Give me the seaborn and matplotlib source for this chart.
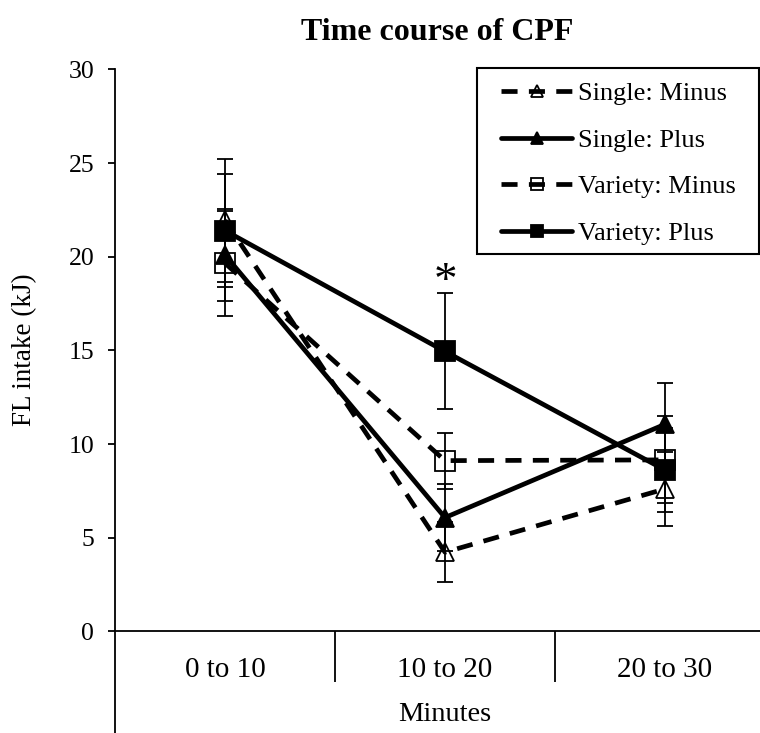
import matplotlib
matplotlib.use("Agg")
import matplotlib.pyplot as plt
from matplotlib.patches import Rectangle
import numpy as np
import pandas as pd
import seaborn as sns

# Intake per 10-minute block (mean and SEM, kJ)
periods = ["0 to 10", "10 to 20", "20 to 30"]
single_minus = [21.95, 4.23, 7.61]
single_minus_se = [3.27, 1.60, 1.98]
single_plus = [20.1, 6.08, 11.06]
single_plus_se = [2.45, 1.78, 2.22]
variety_minus = [19.66, 9.12, 9.16]
variety_minus_se = [2.80, 1.50, 2.32]
variety_plus = [21.4, 14.95, 8.62]
variety_plus_se = [3.0, 3.10, 2.22]
series_names = ["Single: Minus", "Single: Plus", "Variety: Minus", "Variety: Plus"]
significant_period = "10 to 20"
star_height = 19.0

sns.set_theme(style="white")
plt.rcParams["font.family"] = ["Liberation Serif", "DejaVu Serif"]
for key in ["text.color", "axes.labelcolor", "xtick.color", "ytick.color",
            "axes.edgecolor"]:
    plt.rcParams[key] = "black"

fig = plt.figure(figsize=(7.6, 7.33), dpi=100)
ax = fig.add_axes([115 / 760, 1 - 734.5 / 733, 660 / 760, 665 / 733])

pos = np.arange(len(periods))
dash = (0, (3.4, 2.4))
styles = [
    (single_minus, single_minus_se, "^", "none", dash),
    (variety_minus, variety_minus_se, "s", "none", dash),
    (single_plus, single_plus_se, "^", "black", "-"),
    (variety_plus, variety_plus_se, "s", "black", "-"),
]
labels = [series_names[0], series_names[2], series_names[1], series_names[3]]

for (vals, se, mk, face, ls), lab in zip(styles, labels):
    ax.errorbar(pos, vals, yerr=se, fmt="none", ecolor="black",
                elinewidth=1.3, capsize=5.5, capthick=1.3, zorder=2)
    df = pd.DataFrame({"period": pos, "value": vals})
    sns.lineplot(data=df, x="period", y="value", ax=ax, color="black",
                 marker=mk, markersize=14 if mk == "s" else 13,
                 markerfacecolor=face, markeredgecolor="black",
                 markeredgewidth=1.3, linestyle=ls, linewidth=3.4,
                 label=lab, zorder=3)

ax.set_xlim(-0.5, 2.5)
ax.set_ylim(-5.5, 30)
ax.set_xlabel("")
ax.set_ylabel("")

for s in ["top", "right"]:
    ax.spines[s].set_visible(False)
for s in ["left", "bottom"]:
    ax.spines[s].set_color("black")
    ax.spines[s].set_linewidth(1.3)
ax.spines["bottom"].set_position(("data", 0))

ax.set_yticks(np.arange(0, 31, 5))
ax.tick_params(axis="y", direction="out", length=5, width=1.3, color="black",
               labelcolor="black", labelsize=18.5, pad=10, left=True)
ax.set_xticks(pos)
ax.set_xticklabels([])
ax.tick_params(axis="x", which="major", length=0)
ax.set_xticks([0.5, 1.5], minor=True)
ax.tick_params(axis="x", which="minor", direction="out", length=36.7,
               width=1.3, color="black", bottom=True)

for i, p in enumerate(periods):
    ax.text(i, -2.41, p, ha="center", va="baseline", fontsize=21, color="black")
ax.text(1, -4.8, "Minutes", ha="center", va="baseline", fontsize=20.5,
        color="black")

fig.text(25 / 760, 1 - 350 / 733, "FL intake (kJ)", rotation=90,
         ha="center", va="center", fontsize=19.5, color="black")
fig.text(437 / 760, 1 - 33 / 733, "Time course of CPF", ha="center",
         va="center", fontsize=23, fontweight="bold", color="black")

ax.text(periods.index(significant_period), star_height - 1.0, "*",
        ha="center", va="baseline", fontsize=34, color="black")

handles, labs = ax.get_legend_handles_labels()
order = [labs.index(n) for n in series_names]
leg = ax.legend([handles[i] for i in order], [labs[i] for i in order],
                loc="upper left", bbox_to_anchor=(501 / 760, 1 - 82 / 733),
                bbox_transform=fig.transFigure, frameon=False, fontsize=19,
                markerscale=0.65, handlelength=2.7, handletextpad=0.2,
                labelspacing=0.87, borderpad=0, borderaxespad=0)
for t in leg.get_texts():
    t.set_color("black")

fig.patches.append(Rectangle((477 / 760, 1 - 254 / 733), (759 - 477) / 760,
                             (254 - 67.7) / 733, transform=fig.transFigure,
                             fill=False, edgecolor="black", linewidth=1.5))

fig.savefig("out.png", dpi=100)
